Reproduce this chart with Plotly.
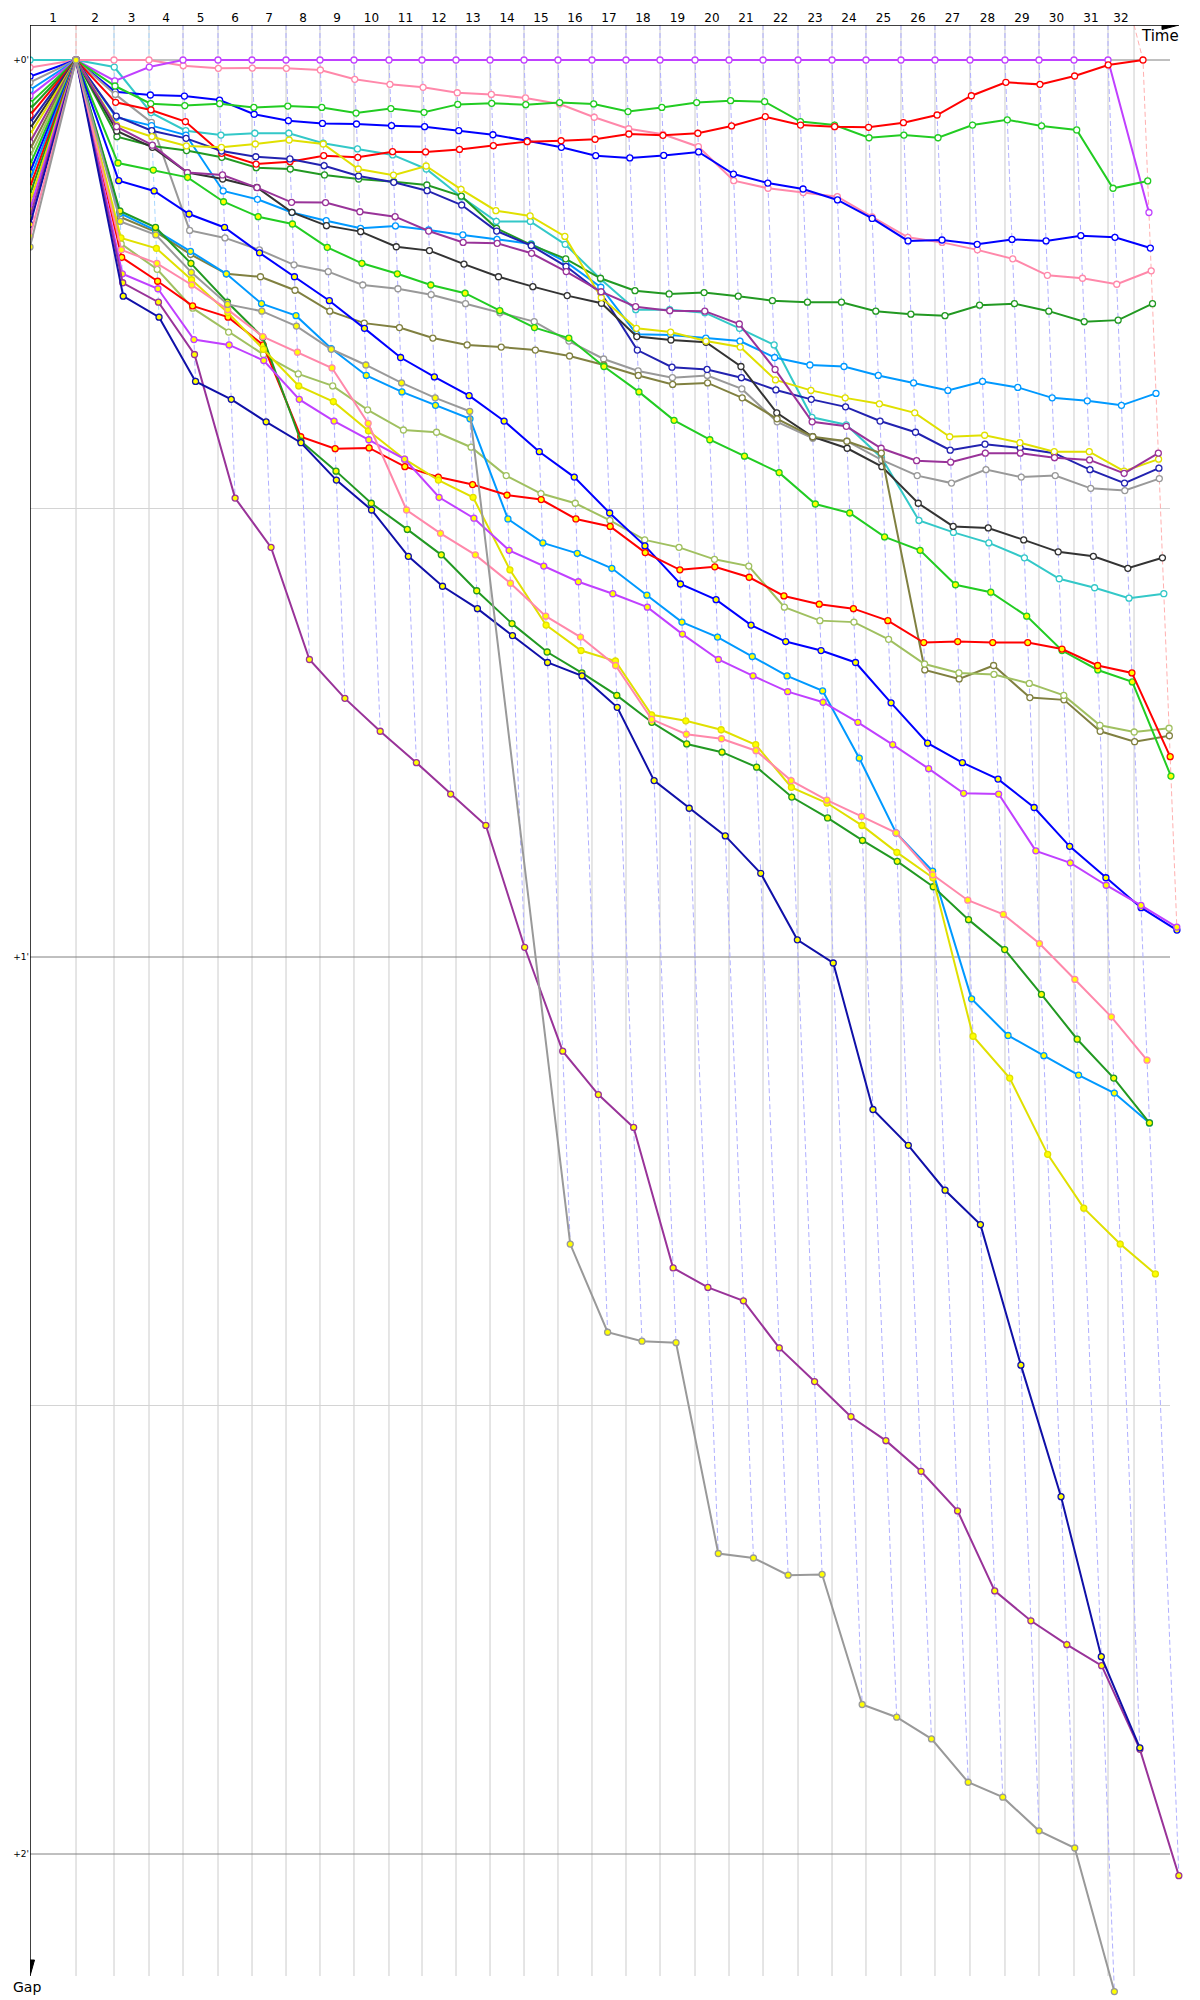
import plotly.graph_objects as go

# ---------------- data ----------------
laps = list(range(1, 33))
# leader's elapsed time (s) at the end of each lap 1..32
leader_times = [78.9, 144.0, 204.0, 262.3, 322.3, 380.6, 438.9, 497.1, 555.4, 615.4,
                672.0, 730.3, 788.6, 846.9, 905.1, 963.4, 1021.7, 1080.0, 1140.0, 1198.3,
                1256.6, 1316.6, 1374.9, 1433.1, 1493.1, 1551.4, 1611.4, 1671.4, 1729.7, 1789.7,
                1848.0, 1908.0]
time_limit = 1892.6
lap_marks = leader_times[:31] + [time_limit]

# gaps to leader (s) for laps 2..32 (lap 1 = 0 for everyone); None = no lap
magenta = [1.4, 0.47] + [0.0] * 28 + [10.2]
pink = [0, 0, 0.38, 0.56, 0.54, 0.56, 0.67, 1.29, 1.63, 1.83, 2.19, 2.3, 2.54, 2.94, 3.83, 4.6,
        4.97, 5.8, 8.07, 8.58, 8.87, 9.14, 10.5, 11.86, 12.2, 12.7, 13.3, 14.4, 14.6, 15.0, 14.1]
green = [1.74, 2.92, 3.05, 2.92, 3.17, 3.08, 3.17, 3.55, 3.25, 3.5, 2.97, 2.9, 2.99, 2.85, 2.94,
         3.45, 3.17, 2.85, 2.72, 2.79, 4.12, 4.35, 5.2, 5.02, 5.2, 4.35, 4.0, 4.41, 4.68, 8.58, 8.09]
red = [2.83, 3.34, 4.12, 6.24, 6.96, 6.8, 6.4, 6.51, 6.13, 6.15, 5.98, 5.73, 5.46, 5.4, 5.3,
       4.95, 5.04, 4.9, 4.41, 3.79, 4.35, 4.46, 4.5, 4.19, 3.68, 2.39, 1.49, 1.63, 1.07, 0.33, 0.0]
blue = [2.12, 2.34, 2.41, 2.68, 3.63, 4.06, 4.24, 4.28, 4.39, 4.46, 4.73, 5.0, 5.4, 5.84, 6.4,
        6.55, 6.38, 6.15, 7.63, 8.23, 8.63, 9.36, 10.6, 12.1, 12.04, 12.33, 12.0, 12.1, 11.75, 11.86, 12.58]
turquoise = [0.47, 3.52, 4.73, 5.02, 4.9, 4.9, 5.57, 5.95, 6.35, 7.29, 9.16, 10.8, 10.8, 12.33, 14.65,
             16.7, 16.7, 16.9, 17.95, 19.06, 23.9, 24.4, 26.6, 30.8, 31.6, 32.3, 33.3, 34.7, 35.3, 36.0, 35.7]
yellow = [4.35, 5.13, 5.75, 5.84, 5.62, 5.35, 5.62, 7.29, 7.7, 7.09, 8.65, 10.08, 10.43, 11.8, 15.9,
          17.95, 18.2, 18.8, 19.2, 21.4, 22.1, 22.6, 23.0, 23.6, 25.2, 25.1, 25.6, 26.2, 26.2, 27.5, 26.7]
navy = [3.75, 4.73, 5.24, 6.09, 6.47, 6.62, 7.07, 7.76, 8.18, 8.74, 9.7, 11.44, 12.42, 13.8, 15.6,
        19.4, 20.55, 20.7, 21.25, 22.07, 22.7, 23.2, 24.15, 24.9, 26.1, 25.7, 25.95, 26.3, 27.4, 28.3, 27.3]
dark_green = [5.13, 5.75, 6.06, 6.51, 7.2, 7.29, 7.69, 7.96, 8.14, 8.36, 9.1, 11.26, 12.37, 13.3, 14.6,
              15.43, 15.65, 15.56, 15.8, 16.1, 16.2, 16.2, 16.8, 17.0, 17.1, 16.4, 16.3, 16.8, 17.5, 17.4, 16.3]
purple = [4.46, 5.7, 7.53, 7.69, 8.54, 9.52, 9.54, 10.15, 10.48, 11.44, 12.2, 12.26, 12.93, 14.15, 15.5,
          16.5, 16.77, 16.8, 17.66, 20.7, 24.2, 24.5, 25.97, 26.8, 26.9, 26.3, 26.3, 26.6, 26.75, 27.65, 26.3]
black = [4.75, 5.84, 7.53, 7.96, 8.52, 10.19, 11.08, 11.48, 12.49, 12.75, 13.65, 14.5, 15.16, 15.76, 16.27,
         18.5, 18.73, 18.88, 20.5, 23.6, 25.2, 25.97, 27.2, 29.65, 31.2, 31.3, 32.1, 32.9, 33.2, 34.0, 33.3]
sky_blue = [3.83, 4.39, 5.02, 8.76, 9.32, 10.2, 10.75, 11.26, 11.1, 11.37, 11.7, 12.0, 12.3, 13.5, 15.2,
            18.35, 18.4, 18.6, 18.8, 19.9, 20.4, 20.5, 21.1, 21.6, 22.1, 21.5, 21.9, 22.6, 22.8, 23.1, 22.3]
gray = [2.3, 4.17, 11.4, 11.9, 12.7, 13.7, 14.16, 15.05, 15.3, 15.7, 16.3, 16.9, 17.5, 18.8, 20.0,
        20.8, 21.25, 21.1, 22.0, 24.2, 25.3, 25.5, 26.75, 27.8, 28.3, 27.4, 27.9, 27.8, 28.65, 28.8, 28.0]
olive = [10.5, 11.5, 13.0, 14.3, 14.5, 15.4, 16.8, 17.6, 17.9, 18.6, 19.06, 19.2, 19.4, 19.8, 20.4,
         21.1, 21.7, 21.6, 22.6, 24.0, 25.2, 25.5, 26.3, 40.8, 41.4, 40.5, 42.65, 42.8, 44.9, 45.6, 45.2]
light_olive = [12.3, 14.0, 16.6, 18.2, 19.7, 21.0, 21.8, 23.4, 24.75, 24.9, 25.9, 27.8, 29.0, 29.65, 30.8,
               32.1, 32.6, 33.4, 33.85, 36.6, 37.5, 37.6, 38.75, 40.4, 41.0, 41.1, 41.7, 42.5, 44.5, 44.95, 44.7]
green_b = [6.89, 7.36, 7.85, 9.48, 10.48, 10.97, 12.53, 13.6, 14.3, 15.05, 15.6, 16.77, 17.9, 18.6, 20.5,
           22.2, 24.1, 25.4, 26.5, 27.6, 29.7, 30.3, 31.9, 32.8, 35.1, 35.6, 37.2, 39.5, 40.8, 41.6, 47.9]
red_b = [13.2, 14.8, 16.45, 17.2, 19.06, 25.2, 26.0, 25.95, 27.2, 27.9, 28.4, 29.1, 29.4, 30.7, 31.2,
         32.95, 34.1, 33.9, 34.6, 35.85, 36.4, 36.7, 37.5, 38.97, 38.9, 38.97, 38.97, 39.4, 40.5, 41.0, 46.6]
blue_b = [8.07, 8.76, 10.3, 11.2, 12.9, 14.5, 16.1, 17.95, 19.9, 21.2, 22.45, 24.15, 26.2, 27.9, 30.3,
          32.5, 35.05, 36.1, 37.8, 38.9, 39.5, 40.3, 43.0, 45.7, 47.0, 48.1, 50.0, 52.6, 54.7, 56.7, 58.2]
magenta_b = [14.3, 15.3, 18.7, 19.06, 20.1, 22.7, 24.15, 25.4, 26.7, 29.25, 30.65, 32.8, 33.85, 34.9, 35.7,
             36.6, 38.4, 40.1, 41.2, 42.25, 42.96, 44.3, 45.8, 47.4, 49.05, 49.1, 52.9, 53.7, 55.2, 56.55, 58.0]
pink_b = [12.7, 13.6, 15.05, 16.7, 18.5, 19.55, 20.6, 24.3, 30.1, 31.66, 33.1, 35.0, 37.2, 38.6, 40.5,
          44.1, 45.1, 45.4, 46.2, 48.2, 49.5, 50.6, 51.7, 54.5, 56.2, 57.15, 59.1, 61.5, 64.0, 66.9, None]
yellow_b = [11.9, 12.6, 14.7, 16.9, 19.35, 21.8, 22.85, 24.8, 26.7, 28.1, 29.25, 34.1, 37.8, 39.5, 40.2,
            43.8, 44.2, 44.8, 45.8, 48.65, 49.7, 51.2, 53.0, 54.7, 65.3, 68.1, 73.2, 76.8, 79.2, 81.2, None]
dark_green_b = [10.1, 11.2, 13.6, 16.2, 18.55, 25.5, 27.5, 29.65, 31.4, 33.1, 35.5, 37.7, 39.6, 41.0, 42.5,
                44.3, 45.75, 46.3, 47.3, 49.3, 50.7, 52.2, 53.6, 55.3, 57.5, 59.5, 62.5, 65.5, 68.1, 71.1, None]
navy_b = [15.8, 17.2, 21.5, 22.7, 24.2, 25.6, 28.1, 30.1, 33.2, 35.2, 36.7, 38.5, 40.3, 41.2, 43.3,
          48.2, 50.05, 51.9, 54.4, 58.85, 60.4, 70.2, 72.6, 75.6, 77.9, 87.3, 96.1, 106.8, 112.9, None, None]
purple_b = [14.9, 16.2, 19.7, 29.3, 32.6, 40.1, 42.7, 44.9, 47.0, 49.1, 51.2, 59.35, 66.3, 69.2, 71.4,
            80.8, 82.1, 83.0, 86.15, 88.4, 90.75, 92.35, 94.4, 97.05, 102.4, 104.4, 106.0, 107.4, 113.0, 121.45, None]
gray_b = [10.8, 11.7, 14.2, 16.35, 16.8, 17.8, 19.35, 20.4, 21.6, 22.6, 23.5, None, 79.2, 85.1, 85.7,
          85.8, 99.9, 100.2, 101.35, 101.3, 110.0, 110.85, 112.3, 115.2, 116.2, 118.45, 119.6, 129.2, None, None, None]
sky_blue_b = [10.25, 11.4, 12.8, 14.3, 16.3, 17.1, 19.3, 21.1, 22.2, 23.1, 24.0, 30.7, 32.3, 33.0, 34.0,
              35.8, 37.6, 38.6, 39.9, 41.2, 42.2, 46.7, 51.7, 54.25, 62.8, 65.25, 66.6, 67.9, 69.1, 71.1, None]

# name, gaps, line colour, marker fill, grid gap at start (s)
series = [
    ("turquoise", turquoise, "#33c8c8", "white", 0.0),
    ("pink", pink, "#ff88aa", "white", 0.5),
    ("blue", blue, "#0000ff", "white", 1.1),
    ("gray", gray, "#999999", "white", 1.5),
    ("sky blue", sky_blue, "#0099ff", "white", 2.0),
    ("magenta", magenta, "#c040ff", "white", 2.4),
    ("green", green, "#22cc22", "white", 2.9),
    ("dark green", dark_green, "#229922", "white", 3.3),
    ("red", red, "#ff0000", "white", 3.7),
    ("navy", navy, "#2222b0", "white", 4.2),
    ("black", black, "#333333", "white", 4.6),
    ("yellow", yellow, "#e0e000", "white", 5.0),
    ("purple", purple, "#993399", "white", 5.5),
    ("olive", olive, "#808040", "white", 6.0),
    ("light olive", light_olive, "#a0c060", "white", 6.5),
    ("green b", green_b, "#22cc22", "#ffff00", 7.0),
    ("blue b", blue_b, "#0000ff", "#ffff00", 7.5),
    ("sky blue b", sky_blue_b, "#0099ff", "#ffff00", 8.0),
    ("red b", red_b, "#ff0000", "#ffff00", 8.5),
    ("dark green b", dark_green_b, "#229922", "#ffff00", 9.0),
    ("yellow b", yellow_b, "#e0e000", "#ffff00", 9.5),
    ("magenta b", magenta_b, "#c040ff", "#ffff00", 10.0),
    ("purple b", purple_b, "#993399", "#ffff00", 10.5),
    ("navy b", navy_b, "#1010a8", "#ffff00", 11.0),
    ("pink b", pink_b, "#ff88aa", "#ffff00", 11.8),
    ("gray b", gray_b, "#999999", "#ffff00", 12.5),
]

lap_labels = [str(n) for n in laps]
gap_ticks = [0, 60, 120]
gap_tick_labels = ["+0'", "+1'", "+2'"]

# ---------------- geometry (pixel mapping) ----------------
# the page body adds an 8 px offset, so the figure is drawn 8 px smaller
PAGE_OFFSET = 8
FIG_W, FIG_H = 1200 - PAGE_OFFSET, 2000 - PAGE_OFFSET
PLOT_L, PLOT_T = 30, 25            # target screen px of plot area
X_PX_PER_S = 35.0 / 60.0
Y_PX_PER_S = 897.0 / 60.0


def x_of_px(p):
    return (p - 30.0) / X_PX_PER_S


def y_of_px(p):
    return (p - 60.0) / Y_PX_PER_S


def paper_x(p):
    return (p - PLOT_L) / (1200 - PLOT_L)


def paper_y(p):
    return 1 - (p - PLOT_T) / (2000 - PLOT_T)


Y_TOP = y_of_px(25)
Y_BOT_LINES = y_of_px(1976)
X_RIGHT_LINES = x_of_px(1170)

fig = go.Figure()

# vertical lap lines
shapes = []
for t in lap_marks:
    shapes.append(dict(type="line", xref="x", yref="y", x0=t, x1=t, y0=Y_TOP, y1=Y_BOT_LINES,
                       line=dict(color="#cccccc", width=1), layer="below"))
# horizontal gap lines
for g, col in [(0, "#808080"), (30, "#d4d4d4"), (60, "#808080"), (90, "#d4d4d4"), (120, "#808080")]:
    shapes.append(dict(type="line", xref="x", yref="y", x0=0, x1=X_RIGHT_LINES, y0=g, y1=g,
                       line=dict(color=col, width=1), layer="below"))

# dashed lap lines (lap mark -> leader -> slowest car of that lap)
for i, lap in enumerate(laps):
    if lap == 1:
        gmax = 0.0
    else:
        vals = [s[1][lap - 2] for s in series if s[1][lap - 2] is not None]
        gmax = max(vals)
    if lap == 1 or lap == 32:
        dcol = "#ffb0b0"
    elif lap <= 3:
        dcol = "#a8d8ff"
    else:
        dcol = "#b0b0ff"
    fig.add_trace(go.Scatter(
        x=[lap_marks[i], leader_times[i], leader_times[i] + gmax],
        y=[Y_TOP, 0, gmax], mode="lines",
        line=dict(color=dcol, width=1, dash="5px,3px"), hoverinfo="skip", showlegend=False))

# car traces
for name, g, col, fill, g0 in series:
    xs = [0.0, leader_times[0]]
    ys = [g0, 0.0]
    for k, v in enumerate(g):
        if v is None:
            continue
        xs.append(leader_times[k + 1] + v)
        ys.append(v)
    fig.add_trace(go.Scatter(
        x=xs, y=ys, mode="lines+markers", name=name,
        line=dict(color=col, width=2),
        marker=dict(symbol="circle", size=6, color=fill, line=dict(color=col, width=1.3)),
        showlegend=False))

# axes lines + arrows
shapes.append(dict(type="line", xref="x", yref="y", x0=0, x1=x_of_px(1168), y0=Y_TOP, y1=Y_TOP,
                   line=dict(color="black", width=1.5)))
shapes.append(dict(type="path", xref="x", yref="y",
                   path=f"M {x_of_px(1162)} {y_of_px(20.5)} L {x_of_px(1179)} {y_of_px(25)} L {x_of_px(1162)} {y_of_px(29.5)} Z",
                   fillcolor="black", line=dict(color="black", width=1)))
shapes.append(dict(type="line", xref="x", yref="y", x0=0, x1=0, y0=Y_TOP, y1=y_of_px(1962),
                   line=dict(color="black", width=1.5)))
shapes.append(dict(type="path", xref="x", yref="y",
                   path=f"M {x_of_px(25.5)} {y_of_px(1960)} L {x_of_px(30)} {y_of_px(1976)} L {x_of_px(34.5)} {y_of_px(1960)} Z",
                   fillcolor="black", line=dict(color="black", width=1)))

tick_mid = []
prev = 0.0
for t in lap_marks:
    tick_mid.append((prev + t) / 2)
    prev = t

fig.update_layout(
    width=FIG_W, height=FIG_H,
    margin=dict(l=PLOT_L - PAGE_OFFSET, r=0, t=PLOT_T - PAGE_OFFSET, b=0, pad=0),
    paper_bgcolor="white", plot_bgcolor="white",
    shapes=shapes,
    showlegend=False,
    font=dict(family="DejaVu Sans", color="black"),
    xaxis=dict(range=[x_of_px(30), x_of_px(1200)], side="top", tickmode="array",
               tickvals=tick_mid, ticktext=lap_labels, showgrid=False, zeroline=False,
               showline=False, ticks="", tickfont=dict(size=12, family="DejaVu Sans"),
               automargin=False, fixedrange=True),
    yaxis=dict(range=[y_of_px(2000), y_of_px(25)], tickmode="array", tickvals=gap_ticks,
               ticktext=gap_tick_labels, showgrid=False, zeroline=False, showline=False,
               ticks="", tickfont=dict(size=9, family="DejaVu Sans"), automargin=False,
               fixedrange=True),
    annotations=[
        dict(text="Time", x=paper_x(1160), y=paper_y(36), xref="paper", yref="paper",
             xanchor="center", yanchor="middle",
             showarrow=False, font=dict(size=15, family="DejaVu Sans")),
        dict(text="Gap", x=paper_x(27), y=paper_y(1987), xref="paper", yref="paper",
             xanchor="center", yanchor="middle",
             showarrow=False, font=dict(size=14, family="DejaVu Sans")),
    ],
)

fig.write_html("out.html", config={"displayModeBar": False})
